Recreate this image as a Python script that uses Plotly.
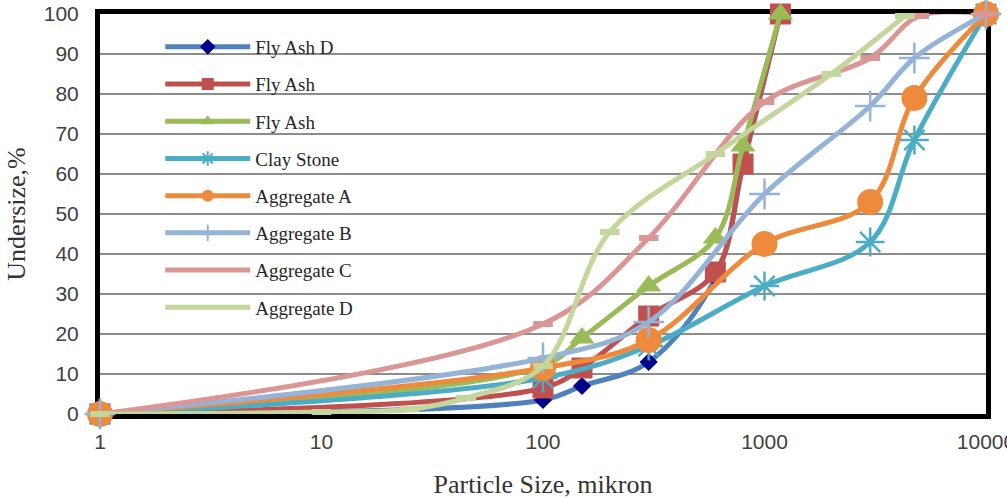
import plotly.graph_objects as go

# ---- data ----
fly_ash_d_x = [1, 100, 150, 300, 600, 800, 1180]
fly_ash_d_y = [0, 3.5, 7, 13, 34, 62, 100]

fly_ash_x = [1, 100, 150, 300, 600, 800, 1180]
fly_ash_y = [0, 6.5, 11.5, 24.5, 35.5, 62.5, 100]

fly_ash2_x = [1, 100, 150, 300, 600, 800, 1180]
fly_ash2_y = [0, 12, 19, 32, 44, 67, 100]

clay_x = [1, 100, 300, 1000, 3000, 4750, 10000]
clay_y = [0, 9, 17, 32, 43, 68.5, 100]

agg_a_x = [1, 100, 300, 1000, 3000, 4750, 10000]
agg_a_y = [0, 11.5, 18.5, 42.5, 53, 79, 100]

agg_b_x = [1, 100, 300, 1000, 3000, 4750, 10000]
agg_b_y = [0, 14, 23, 55, 77, 89, 100]

agg_c_x = [1, 100, 300, 1000, 3000, 5000, 10000]
agg_c_y = [0, 22.5, 44, 78, 89, 99.5, 100]

agg_d_x = [1, 10, 25, 45, 100, 200, 600, 2000, 4300]
agg_d_y = [0, 0.5, 1.2, 4, 12, 45.5, 65, 85, 99.5]

x_tickvals = [1, 10, 100, 1000, 10000]
x_ticktext = ["1", "10", "100", "1000", "10000"]
y_tickvals = [0, 10, 20, 30, 40, 50, 60, 70, 80, 90, 100]

series = [
    ("Fly Ash D", fly_ash_d_x, fly_ash_d_y, "#4F81BD", dict(symbol="diamond", size=14, color="#00008B")),
    ("Fly Ash", fly_ash_x, fly_ash_y, "#C0504D", dict(symbol="square", size=21, color="#C0504D")),
    ("Fly Ash", fly_ash2_x, fly_ash2_y, "#9BBB59", dict(symbol="triangle-up", size=22, color="#9BBB59")),
    ("Clay Stone", clay_x, clay_y, "#4BACC6", dict(symbol="asterisk-open", size=24, color="#4BACC6", line=dict(width=2.5, color="#4BACC6"))),
    ("Aggregate A", agg_a_x, agg_a_y, "#EE8A3C", dict(symbol="circle", size=26, color="#EE8A3C")),
    ("Aggregate B", agg_b_x, agg_b_y, "#95B3D7", dict(symbol="cross-thin-open", size=22, color="#95B3D7", line=dict(width=2.5, color="#95B3D7"))),
    ("Aggregate C", agg_c_x, agg_c_y, "#DA9694", dict(symbol="line-ew-open", size=14, color="#DA9694", line=dict(width=6, color="#DA9694"))),
    ("Aggregate D", agg_d_x, agg_d_y, "#C3D69B", dict(symbol="line-ew-open", size=14, color="#C3D69B", line=dict(width=6, color="#C3D69B"))),
]

fig = go.Figure()
for i, (name, xs, ys, col, mk) in enumerate(series):
    fig.add_trace(go.Scatter(
        x=xs, y=ys, name=name, mode="lines+markers",
        line=dict(color=col, width=5, shape="spline", smoothing=1),
        marker=mk, cliponaxis=False, legendgroup=f"g{i}",
    ))

fig.update_layout(
    width=1007, height=499,
    margin=dict(l=100, r=21, t=14, b=85),
    paper_bgcolor="white", plot_bgcolor="white",
    showlegend=True,
    legend=dict(
        x=0.068, y=0.965, xanchor="left", yanchor="top",
        font=dict(family="Liberation Serif", size=19, color="#262626"),
        bgcolor="rgba(0,0,0,0)", itemwidth=85, itemsizing="constant",
        tracegroupgap=9.5, traceorder="grouped",
    ),
    xaxis=dict(
        type="log", range=[0, 4], tickvals=x_tickvals, ticktext=x_ticktext,
        showgrid=False, zeroline=False,
        showline=True, linewidth=5, linecolor="black", mirror=True,
        ticks="", ticklabelstandoff=5, ticklabeloverflow="allow",
        tickfont=dict(family="Liberation Sans", size=21, color="#404040"),
        title=dict(text="Particle Size, mikron", standoff=29,
                   font=dict(family="Liberation Serif", size=26, color="#333333")),
        layer="below traces", automargin=False,
    ),
    yaxis=dict(
        range=[0, 100], tickvals=y_tickvals,
        showgrid=True, gridcolor="#8C8C8C", gridwidth=2, zeroline=False,
        showline=True, linewidth=5, linecolor="black", mirror=True,
        ticks="", ticklabelstandoff=12,
        tickfont=dict(family="Liberation Sans", size=21, color="#404040"),
        title=dict(text="Undersize,%", standoff=12,
                   font=dict(family="Liberation Serif", size=26, color="#333333")),
        layer="below traces", automargin=False,
    ),
)

fig.write_html("out.html")
